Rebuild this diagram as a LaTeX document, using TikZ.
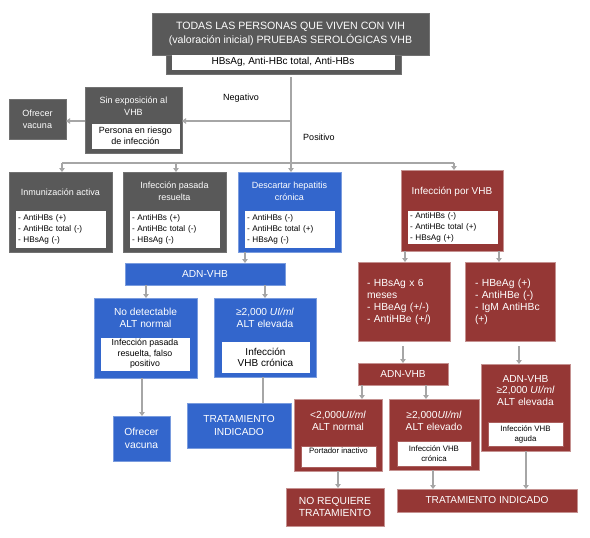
\documentclass[tikz,border=0pt]{standalone}
\usepackage{fontspec}
\setmainfont{Liberation Sans}
\usetikzlibrary{arrows.meta,calc}
\definecolor{dgray}{HTML}{595959}
\definecolor{bblue}{HTML}{3366CC}
\definecolor{rred}{HTML}{953735}
\definecolor{lgray}{HTML}{A6A6A6}
\begin{document}
\begin{tikzpicture}[x=1pt,y=-1pt,
  base/.style={inner sep=0pt, outer sep=0pt, line width=0.6pt},
  gbox/.style={base, fill=dgray, draw=dgray!85!white},
  bbox/.style={base, fill=bblue, draw=bblue!65!white},
  rbox/.style={base, fill=rred, draw=rred!55!white},
  wbox/.style={base, fill=white, draw=white},
  rwbox/.style={base, fill=white, draw=rred!80!white},
  ttl/.style={inner sep=0pt, text=white, align=center, font=\fontsize{10.2}{12}\selectfont},
  sttl/.style={inner sep=0pt, text=white, align=center, font=\fontsize{9}{12}\selectfont},
  lst/.style={align=left, inner xsep=2pt, font=\fontsize{8.2}{11}\selectfont},
  lbl/.style={inner sep=0pt, font=\fontsize{9}{11}\selectfont},
  conn/.style={draw=lgray, line width=1.6pt},
  arr/.style={conn, -{Triangle[width=5.5pt,length=4pt]}}
]
\useasboundingbox[fill=white] (0,0) rectangle (590,538);

% top
\node[gbox, minimum width=277pt, minimum height=42pt, text=white, align=center,
  font=\fontsize{10.6}{14}\selectfont] (top) at (290.5,34)
  {TODAS LAS PERSONAS QUE VIVEN CON VIH\\(valoración inicial) PRUEBAS SEROLÓGICAS VHB};
\node[gbox, minimum width=235pt, minimum height=19pt] (toptab) at (283.5,64.5) {};
\node[wbox, minimum width=222pt, minimum height=14pt, font=\fontsize{10}{11}\selectfont] (topw) at (283,62) {HBsAg, Anti-HBc total, Anti-HBs};

% sin exposicion
\node[gbox, minimum width=97pt, minimum height=66pt] (sin) at (133.5,120) {};
\node[sttl] (sinT) at (133.5,106) {Sin exposición al\\VHB};
\node[wbox, minimum width=87pt, minimum height=24pt, align=center, font=\fontsize{9}{11}\selectfont] (sinW) at (135.5,136) {Persona en riesgo\\de infección};
\node[gbox, minimum width=57pt, minimum height=40pt, text=white, align=center, font=\fontsize{9}{12}\selectfont] (ofv1) at (37.5,119) {Ofrecer\\vacuna};

\node[lbl] (neg) at (241,98) {Negativo};
\node[lbl] (pos) at (319,137) {Positivo};

% row 2
\node[gbox, minimum width=103pt, minimum height=80pt] (inm) at (60.5,212) {};
\node[sttl] (inmT) at (60.5,192) {Inmunización activa};
\node[wbox, lst, minimum width=89pt, minimum height=36pt, text width=85pt] (inmW) at (60.5,229) {- AntiHBs (+)\\- AntiHBc total (-)\\- HBsAg (-)};

\node[gbox, minimum width=103pt, minimum height=80pt] (ipr) at (174.5,212) {};
\node[sttl] (iprT) at (174.5,191) {Infección pasada\\resuelta};
\node[wbox, lst, minimum width=89pt, minimum height=36pt, text width=85pt] (iprW) at (174.5,229) {- AntiHBs (+)\\- AntiHBc total (-)\\- HBsAg (-)};

\node[bbox, minimum width=103pt, minimum height=80pt] (dhc) at (289.5,212) {};
\node[sttl] (dhcT) at (289.5,191) {Descartar hepatitis\\crónica};
\node[wbox, lst, minimum width=89pt, minimum height=36pt, text width=85pt] (dhcW) at (289.5,229) {- AntiHBs (-)\\- AntiHBc total (+)\\- HBsAg (-)};

\node[rbox, minimum width=102pt, minimum height=81pt] (ivhb) at (452,210.5) {};
\node[ttl, font=\fontsize{10}{12}\selectfont] (ivhbT) at (452,192) {Infección por VHB};
\node[wbox, lst, minimum width=89pt, minimum height=32pt, text width=85pt] (ivhbW) at (452.5,227) {- AntiHBs (-)\\- AntiHBc total (+)\\- HBsAg (+)};

% blue branch
\node[bbox, minimum width=160pt, minimum height=22pt, text=white, font=\fontsize{10.2}{11}\selectfont] (adn1) at (205,274) {ADN-VHB};
\node[bbox, minimum width=103pt, minimum height=80pt] (nod) at (145.5,338) {};
\node[ttl] (nodT) at (145.5,318) {No detectable\\ALT normal};
\node[wbox, minimum width=88pt, minimum height=32pt, align=center, font=\fontsize{8.8}{10.5}\selectfont] (nodW) at (145,354) {Infección pasada\\resuelta, falso\\positivo};
\node[bbox, minimum width=102pt, minimum height=79pt] (ge2) at (265,337.5) {};
\node[ttl] (ge2T) at (265,318) {≥2,000 \textit{UI/ml}\\ALT elevada};
\node[wbox, minimum width=87pt, minimum height=30pt, align=center, font=\fontsize{10}{11}\selectfont] (ge2W) at (265.5,357) {Infección\\VHB crónica};
\node[bbox, minimum width=57pt, minimum height=45pt, text=white, align=center, font=\fontsize{10.3}{12.5}\selectfont] (ofv2) at (141.5,438.5) {Ofrecer\\vacuna};
\node[bbox, minimum width=104pt, minimum height=45pt, text=white, align=center, font=\fontsize{10.2}{12.5}\selectfont] (trat1) at (239,425.5) {TRATAMIENTO\\INDICADO};

% red branch
\node[rbox, minimum width=92pt, minimum height=79pt, text=white, align=left, inner xsep=9pt, text width=74pt, font=\fontsize{10.3}{12}\selectfont] (boxA) at (404,301.5) {- HBsAg x 6\\meses\\- HBeAg (+/-)\\- AntiHBe (+/)};
\node[rbox, minimum width=90pt, minimum height=79pt, text=white, align=left, inner xsep=10pt, text width=70pt, font=\fontsize{10.3}{12}\selectfont] (boxB) at (510,301.5) {- HBeAg (+)\\- AntiHBe (-)\\- IgM AntiHBc\\(+)};
\node[rbox, minimum width=90pt, minimum height=22pt, text=white, font=\fontsize{10.1}{11}\selectfont] (adn2) at (403,374) {ADN-VHB};
\node[rbox, minimum width=89pt, minimum height=87pt] (boxC) at (525.5,407.5) {};
\node[ttl, font=\fontsize{10.2}{11.7}\selectfont] (boxCT) at (525.5,390.5) {ADN-VHB\\≥2,000 \textit{UI/ml}\\ALT elevada};
\node[rwbox, minimum width=75pt, minimum height=24pt, align=center, font=\fontsize{7.9}{10}\selectfont] (boxCW) at (525.5,434) {Infección VHB\\aguda};
\node[rbox, minimum width=88pt, minimum height=72pt] (boxD) at (338,435) {};
\node[ttl] (boxDT) at (338,421) {<2,000\textit{UI/ml}\\ALT normal};
\node[rwbox, minimum width=75pt, minimum height=21pt, anchor=north, font=\fontsize{7.8}{9}\selectfont, text depth=13pt, text height=6.5pt] (boxDW) at (338.5,446) {Portador inactivo};
\node[rbox, minimum width=90pt, minimum height=71pt] (boxE) at (434,434.5) {};
\node[ttl] (boxET) at (434,421) {≥2,000\textit{UI/ml}\\ALT elevado};
\node[rwbox, minimum width=74pt, minimum height=25pt, align=center, font=\fontsize{7.9}{10}\selectfont] (boxEW) at (434,453.5) {Infección VHB\\crónica};
\node[rbox, minimum width=98pt, minimum height=38pt, text=white, align=center, font=\fontsize{10.3}{12.3}\selectfont] (noreq) at (335,507) {NO REQUIERE\\TRATAMIENTO};
\node[rbox, minimum width=180pt, minimum height=23pt, text=white, font=\fontsize{10.1}{11}\selectfont] (trat2) at (487,500.5) {TRATAMIENTO INDICADO};

% connectors
\coordinate (j0) at (291,163);
\coordinate (jneg) at (291,121);
\coordinate (jl) at (62,163);
\coordinate (j2) at (176,163);
\coordinate (jr) at (454,163);
\draw[conn] ([yshift=-3pt]toptab.south -| j0) -- (j0);
\draw[arr] (jneg) -- (jneg -| sin.east);
\draw[arr] (sin.west |- jneg) -- (ofv1.east |- jneg);
\draw[conn] (jl) -- (jr);
\draw[arr] (jl) -- (jl |- inm.north);
\draw[arr] (j2) -- (j2 |- ipr.north);
\draw[arr] (j0) -- (j0 |- dhc.north);
\draw[arr] (jr) -- (jr |- ivhb.north);

\coordinate (xa) at (245,0);
\draw[arr] (xa |- dhc.south) -- (xa |- adn1.north);
\coordinate (xb) at (146,0);
\coordinate (xc) at (265,0);
\draw[arr] (xb |- adn1.south) -- (xb |- nod.north);
\draw[arr] (xc |- adn1.south) -- (xc |- ge2.north);
\coordinate (xd) at (142,0);
\draw[arr] (xd |- nod.south) -- (xd |- ofv2.north);
\coordinate (xe) at (263,0);
\draw[conn] (xe |- ge2.south) -- (xe |- trat1.north);

\coordinate (xf) at (405,0);
\coordinate (xg) at (499,0);
\draw[arr] (xf |- ivhb.south) -- (xf |- boxA.north);
\draw[arr] (xg |- ivhb.south) -- (xg |- boxB.north);
\coordinate (xh) at (403,0);
\coordinate (xi) at (519,0);
\draw[arr] ([yshift=-5pt]xh |- boxA.south) -- (xh |- adn2.north);
\draw[arr] ([yshift=-5pt]xi |- boxB.south) -- (xi |- boxC.north);
\coordinate (xj) at (362,0);
\coordinate (xk) at (426,0);
\draw[arr] (xj |- adn2.south) -- (xj |- boxD.north);
\draw[arr] (xk |- adn2.south) -- (xk |- boxE.north);
\coordinate (xl) at (338,0);
\coordinate (xm) at (433,0);
\coordinate (xn) at (526,0);
\draw[arr] (xl |- boxD.south) -- (xl |- noreq.north);
\draw[arr] (xm |- boxE.south) -- (xm |- trat2.north);
\draw[arr] (xn |- boxC.south) -- (xn |- trat2.north);
\end{tikzpicture}
\end{document}
